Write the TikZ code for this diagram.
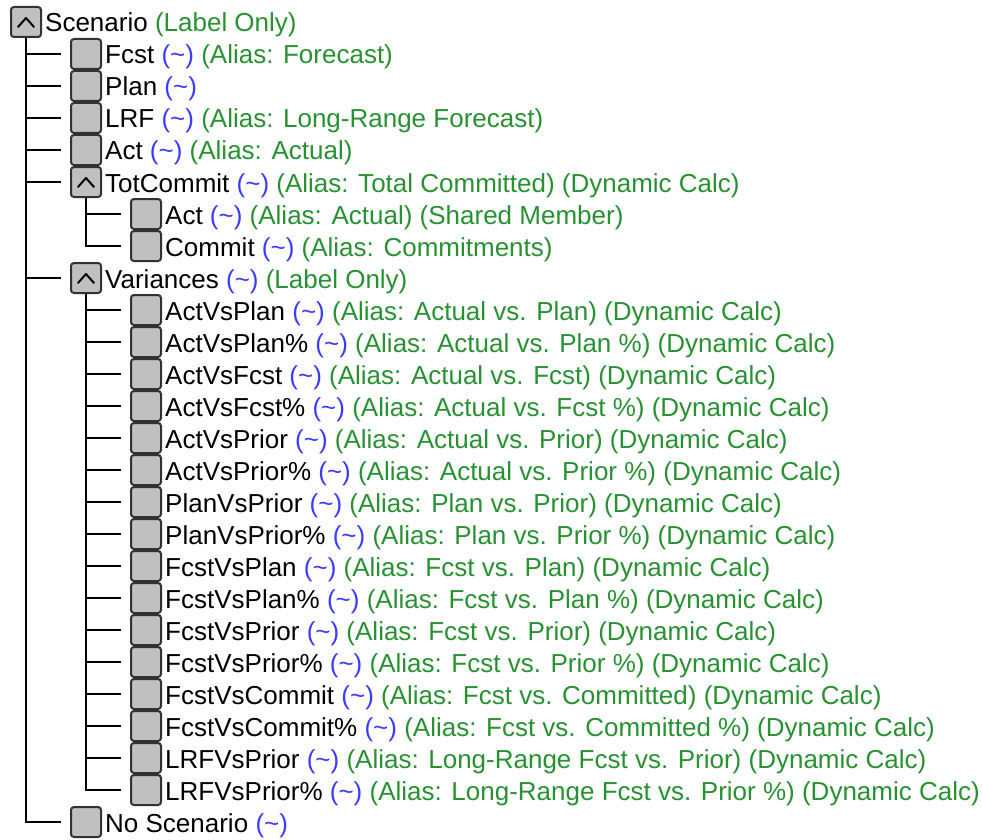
\documentclass[tikz,border=0pt]{standalone}
\usepackage{fontspec}
\setmainfont{Liberation Sans}
\definecolor{tblue}{RGB}{60,60,255}
\definecolor{tgreen}{RGB}{40,145,50}
\definecolor{boxfill}{RGB}{192,192,192}
\definecolor{boxline}{RGB}{50,50,50}
\newcommand\tld{\textcolor{tblue}{(\textasciitilde)}}
\newcommand\grn[1]{\textcolor{tgreen}{#1}}
\tikzset{
  treebox/.style={draw=boxline, fill=boxfill, line width=2pt, rounded corners=3pt,
    minimum width=30pt, minimum height=30pt, inner sep=0pt},
  treetxt/.style={anchor=base west, inner sep=0pt, font=\fontsize{26}{30}\selectfont, text=black},
  conn/.style={draw=black, line width=2pt, shorten >=9pt},
  caretline/.style={draw=black, line width=2pt, line cap=round, line join=round}
}
\newcommand\treerow[3]{%
  \node[treebox] (b#1) at ({26+60*#2}, {22+32*#1}) {};
  \node[treetxt] (t#1) at ([xshift=3pt,yshift=-10pt]b#1.east) {#3};
}
\newcommand\caretmark[1]{%
  \draw[caretline] ([shift={(-8pt,-5pt)}]b#1.center) -- ([shift={(0pt,4pt)}]b#1.center) -- ([shift={(8pt,-5pt)}]b#1.center);
}
\begin{document}
\begin{tikzpicture}[x=1pt,y=-1pt]
\useasboundingbox[fill=white] (0,0) rectangle (982,840);
\treerow{0}{0}{Scenario \grn{(Label Only)}}
\treerow{1}{1}{Fcst \tld{} \grn{(Alias: Forecast)}}
\treerow{2}{1}{Plan \tld}
\treerow{3}{1}{LRF \tld{} \grn{(Alias: Long-Range Forecast)}}
\treerow{4}{1}{Act \tld{} \grn{(Alias: Actual)}}
\treerow{5}{1}{TotCommit \tld{} \grn{(Alias: Total Committed) (Dynamic Calc)}}
\treerow{6}{2}{Act \tld{} \grn{(Alias: Actual) (Shared Member)}}
\treerow{7}{2}{Commit \tld{} \grn{(Alias: Commitments)}}
\treerow{8}{1}{Variances \tld{} \grn{(Label Only)}}
\treerow{9}{2}{ActVsPlan \tld{} \grn{(Alias: Actual vs. Plan) (Dynamic Calc)}}
\treerow{10}{2}{ActVsPlan\% \tld{} \grn{(Alias: Actual vs. Plan \%) (Dynamic Calc)}}
\treerow{11}{2}{ActVsFcst \tld{} \grn{(Alias: Actual vs. Fcst) (Dynamic Calc)}}
\treerow{12}{2}{ActVsFcst\% \tld{} \grn{(Alias: Actual vs. Fcst \%) (Dynamic Calc)}}
\treerow{13}{2}{ActVsPrior \tld{} \grn{(Alias: Actual vs. Prior) (Dynamic Calc)}}
\treerow{14}{2}{ActVsPrior\% \tld{} \grn{(Alias: Actual vs. Prior \%) (Dynamic Calc)}}
\treerow{15}{2}{PlanVsPrior \tld{} \grn{(Alias: Plan vs. Prior) (Dynamic Calc)}}
\treerow{16}{2}{PlanVsPrior\% \tld{} \grn{(Alias: Plan vs. Prior \%) (Dynamic Calc)}}
\treerow{17}{2}{FcstVsPlan \tld{} \grn{(Alias: Fcst vs. Plan) (Dynamic Calc)}}
\treerow{18}{2}{FcstVsPlan\% \tld{} \grn{(Alias: Fcst vs. Plan \%) (Dynamic Calc)}}
\treerow{19}{2}{FcstVsPrior \tld{} \grn{(Alias: Fcst vs. Prior) (Dynamic Calc)}}
\treerow{20}{2}{FcstVsPrior\% \tld{} \grn{(Alias: Fcst vs. Prior \%) (Dynamic Calc)}}
\treerow{21}{2}{FcstVsCommit \tld{} \grn{(Alias: Fcst vs. Committed) (Dynamic Calc)}}
\treerow{22}{2}{FcstVsCommit\% \tld{} \grn{(Alias: Fcst vs. Committed \%) (Dynamic Calc)}}
\treerow{23}{2}{LRFVsPrior \tld{} \grn{(Alias: Long-Range Fcst vs. Prior) (Dynamic Calc)}}
\treerow{24}{2}{LRFVsPrior\% \tld{} \grn{(Alias: Long-Range Fcst vs. Prior \%) (Dynamic Calc)}}
\treerow{25}{1}{No Scenario \tld}
\caretmark{0}
\caretmark{5}
\caretmark{8}
% level 1 connectors
\draw[conn] (b0.south) |- (b25.west);
\foreach \i in {1,2,3,4,5,8} {\draw[conn] (b0.south |- b\i.west) -- (b\i.west);}
% TotCommit children
\draw[conn] (b5.south) |- (b7.west);
\draw[conn] (b5.south |- b6.west) -- (b6.west);
% Variances children
\draw[conn] (b8.south) |- (b24.west);
\foreach \i in {9,...,23} {\draw[conn] (b8.south |- b\i.west) -- (b\i.west);}
\end{tikzpicture}
\end{document}
